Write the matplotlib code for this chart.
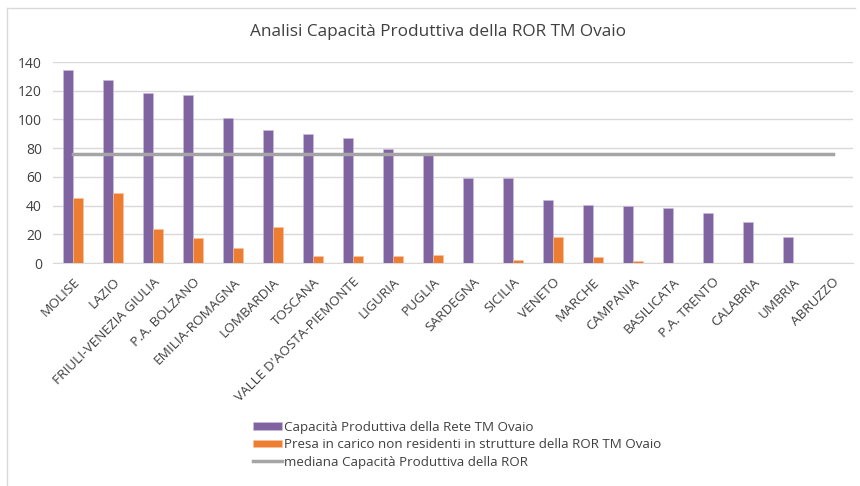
import matplotlib
matplotlib.use("Agg")
import matplotlib.pyplot as plt
from matplotlib.lines import Line2D
import numpy as np

plt.rcParams['font.family'] = ['Open Sans', 'DejaVu Sans']

regions = ["MOLISE", "LAZIO", "FRIULI-VENEZIA GIULIA", "P.A. BOLZANO", "EMILIA-ROMAGNA",
           "LOMBARDIA", "TOSCANA", "VALLE D'AOSTA-PIEMONTE", "LIGURIA", "PUGLIA",
           "SARDEGNA", "SICILIA", "VENETO", "MARCHE", "CAMPANIA", "BASILICATA",
           "P.A. TRENTO", "CALABRIA", "UMBRIA", "ABRUZZO"]
capacita = [134.5, 127.5, 118.5, 117.3, 101, 92.5, 89.8, 87.3, 79.4, 75,
            59.2, 59.2, 44.1, 40.4, 39.9, 38.1, 34.8, 28.6, 17.9, 0]
presa = [45.3, 48.8, 23.5, 17.4, 10.2, 24.8, 5.2, 4.7, 4.7, 5.6,
         0, 1.9, 18.3, 4.2, 1.2, 0, 0, 0, 0, 0]
mediana = 76
yticks = [0, 20, 40, 60, 80, 100, 120, 140]

n = len(regions)

fig = plt.figure(figsize=(8.6, 4.86), dpi=100)
ax = fig.add_axes([53/860, 1 - 263/486, 800/860, 201/486])

x = np.arange(n)
w = 0.24
purple = "#8064a2"
orange = "#ed7d31"
b1 = ax.bar(x - w/2, capacita, width=w, color=purple, edgecolor="#c9bde0", linewidth=0.4,
            label="Capacità Produttiva della Rete TM Ovaio", zorder=3)
b2 = ax.bar(x + w/2, presa, width=w, color=orange, edgecolor="#f8c3a0", linewidth=0.4,
            label="Presa in carico non residenti in strutture della ROR TM Ovaio", zorder=3)
l1, = ax.plot(x, [mediana] * n, color="#a5a5a5", linewidth=2.5,
              label="mediana Capacità Produttiva della ROR", zorder=4)

ax.set_xlim(-0.5, n - 0.5)
ax.set_ylim(0, 140)
ax.set_yticks(yticks)
ax.yaxis.grid(True, color="#d9d9d9", linewidth=1)
ax.set_axisbelow(True)
for s in ["left", "right", "top"]:
    ax.spines[s].set_visible(False)
ax.spines["bottom"].set_color("#d9d9d9")
ax.tick_params(axis="y", length=0, labelsize=10, colors="#404040", pad=8)
ax.tick_params(axis="x", length=0, labelsize=9.7, colors="#404040", pad=9)
ax.set_xticks(x)
ax.set_xticklabels(regions, rotation=45, ha="right", rotation_mode="anchor")

fig.text(438/860, 1 - 32/486, "Analisi Capacità Produttiva della ROR TM Ovaio",
         ha="center", va="center", fontsize=12.4, color="#404040")

leg = fig.legend([b1, b2, l1], [b1.get_label(), b2.get_label(), l1.get_label()],
                 loc="upper left", bbox_to_anchor=(241/860, 1 - 409/486), frameon=False,
                 fontsize=9.6, handlelength=2.2, handleheight=0.5, handletextpad=0.1,
                 labelspacing=0.32, labelcolor="#404040")

fig.add_artist(Line2D([7/860, 855/860], [1 - 8/486, 1 - 8/486], transform=fig.transFigure,
                      color="#d9d9d9", linewidth=1))
fig.add_artist(Line2D([7/860, 7/860], [1 - 8/486, 0], transform=fig.transFigure,
                      color="#d9d9d9", linewidth=1))

fig.savefig("out.png", dpi=100, facecolor="white")
